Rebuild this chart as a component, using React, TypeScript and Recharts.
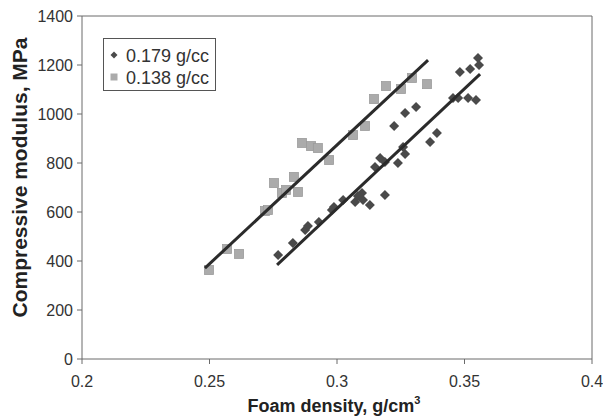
import { ScatterChart, Scatter, XAxis, YAxis, ReferenceLine, Legend } from 'recharts';

// 0.179 g/cc foam (dark diamonds)
const density179 = [
  0.2769, 0.2827, 0.2875, 0.2886, 0.2929, 0.298, 0.2988, 0.3024, 0.3071, 0.3082, 0.3098,
  0.3102, 0.3129, 0.3188, 0.3149, 0.3169, 0.3188, 0.3224, 0.3239, 0.3259, 0.3267, 0.3267,
  0.331, 0.3365, 0.3392, 0.3455, 0.3475, 0.3514, 0.3545, 0.3482, 0.3522, 0.3553, 0.3557,
];
const modulus179 = [
  424, 473, 527, 543, 559, 608, 620, 649, 641, 665, 678,
  649, 629, 669, 784, 820, 804, 951, 800, 865, 837, 1004,
  1029, 886, 922, 1065, 1065, 1065, 1057, 1171, 1184, 1229, 1200,
];

// 0.138 g/cc foam (grey squares)
const density138 = [
  0.2498, 0.2569, 0.2616, 0.2718, 0.2729, 0.2753, 0.2784, 0.28, 0.2831, 0.2847, 0.2863,
  0.2898, 0.2925, 0.2969, 0.3063, 0.311, 0.3145, 0.3192, 0.3251, 0.3294, 0.3353,
];
const modulus138 = [
  363, 449, 429, 604, 608, 718, 678, 690, 743, 682, 882,
  869, 861, 812, 914, 951, 1061, 1114, 1102, 1147, 1122,
];

// linear fit lines (end points)
const fitDensity179 = [0.2765, 0.3561];
const fitModulus179 = [384, 1163];
const fitDensity138 = [0.2482, 0.3357];
const fitModulus138 = [371, 1220];

const xTicks = [0.2, 0.25, 0.3, 0.35, 0.4];
const yTicks = [0, 200, 400, 600, 800, 1000, 1200, 1400];

const series179 = density179.map((d, i) => ({ x: d, y: modulus179[i] }));
const series138 = density138.map((d, i) => ({ x: d, y: modulus138[i] }));
const fit179 = fitDensity179.map((d, i) => ({ x: d, y: fitModulus179[i] }));
const fit138 = fitDensity138.map((d, i) => ({ x: d, y: fitModulus138[i] }));

const FONT = '"Liberation Sans", Arial, sans-serif';
const AXIS = '#6b6b6b';

const Diamond = (props: any) => {
  const { cx, cy } = props;
  const r = 5;
  return <polygon points={`${cx},${cy - r} ${cx + r},${cy} ${cx},${cy + r} ${cx - r},${cy}`} fill="#4a4a4a" />;
};

const Square = (props: any) => {
  const { cx, cy } = props;
  return <rect x={cx - 4.5} y={cy - 4.5} width={9} height={9} fill="#ababab" stroke="#9c9c9c" strokeWidth={0.8} />;
};

const NoDot = () => <g />;

function LegendBox() {
  const row = { display: 'flex', alignItems: 'center', height: 22 } as const;
  return (
    <div
      style={{
        border: '1px solid #555',
        background: '#fff',
        width: 113,
        height: 53,
        boxSizing: 'border-box',
        padding: '6px 0 0 6px',
        fontFamily: FONT,
        fontSize: 18,
        color: '#333',
        lineHeight: '22px',
      }}
    >
      <div style={row}>
        <svg width={10} height={10} style={{ marginRight: 6 }}>
          <polygon points="4,0.5 7.5,4 4,7.5 0.5,4" fill="#4a4a4a" />
        </svg>
        0.179 g/cc
      </div>
      <div style={row}>
        <svg width={10} height={10} style={{ marginRight: 6 }}>
          <rect x={0.5} y={0.5} width={7} height={7} fill="#ababab" />
        </svg>
        0.138 g/cc
      </div>
    </div>
  );
}

export default function App() {
  return (
    <div style={{ position: 'absolute', left: 0, top: 0, width: 603, height: 419, background: '#fff' }}>
      <ScatterChart width={603} height={419} margin={{ top: 16, right: 11, bottom: 0, left: 0 }}>
        <XAxis
          type="number"
          dataKey="x"
          domain={[0.2, 0.4]}
          ticks={xTicks}
          interval={0}
          height={60}
          stroke={AXIS}
          tickSize={5}
          tickMargin={12}
          tick={{ fontSize: 16, fill: '#333', fontFamily: FONT }}
          label={(p: any) => {
            const vb = p.viewBox;
            return (
              <text x={vb.x + vb.width / 2 - 3} y={412} textAnchor="middle" fontFamily={FONT} fontSize={18} fontWeight="bold" fill="#222">
                Foam density, g/cm
                <tspan fontSize={11} dy={-8}>3</tspan>
              </text>
            );
          }}
        />
        <YAxis
          type="number"
          dataKey="y"
          domain={[0, 1400]}
          ticks={yTicks}
          interval={0}
          width={82}
          stroke={AXIS}
          tickSize={5}
          tickMargin={4}
          tick={{ fontSize: 16, fill: '#333', fontFamily: FONT }}
          label={(p: any) => {
            const vb = p.viewBox;
            const cy = vb.y + vb.height / 2 - 10;
            return (
              <text x={27} y={cy} transform={`rotate(-90 27 ${cy})`} textAnchor="middle" fontFamily={FONT} fontSize={21} fontWeight="bold" fill="#222">
                Compressive modulus, MPa
              </text>
            );
          }}
        />
        <ReferenceLine y={1400} stroke={AXIS} strokeWidth={1} ifOverflow="extendDomain" />
        <ReferenceLine x={0.4} stroke={AXIS} strokeWidth={1} ifOverflow="extendDomain" />
        <Legend
          layout="vertical"
          align="center"
          verticalAlign="middle"
          content={() => <LegendBox />}
          wrapperStyle={{ position: 'absolute', left: 103, top: 38, width: 113, height: 53 }}
        />
        <Scatter name="0.179 g/cc" data={series179} shape={Diamond} isAnimationActive={false} />
        <Scatter name="0.138 g/cc" data={series138} shape={Square} isAnimationActive={false} />
        <Scatter
          data={fit179}
          line={{ stroke: '#2b2b2b', strokeWidth: 3 }}
          shape={NoDot}
          legendType="none"
          isAnimationActive={false}
        />
        <Scatter
          data={fit138}
          line={{ stroke: '#2b2b2b', strokeWidth: 3 }}
          shape={NoDot}
          legendType="none"
          isAnimationActive={false}
        />
      </ScatterChart>
    </div>
  );
}
